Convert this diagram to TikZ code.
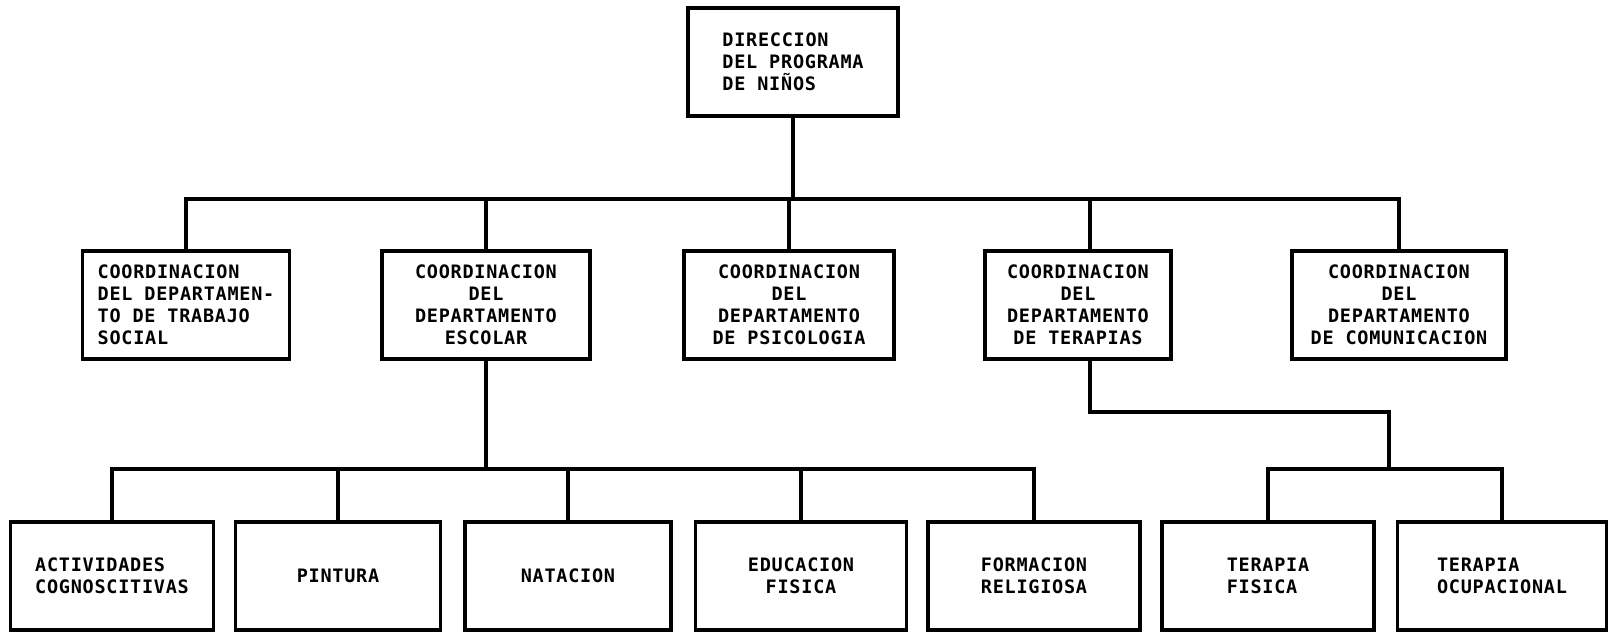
\documentclass[tikz,border=0pt]{standalone}
\usepackage{fontspec}
\usepackage{tikz}
\usetikzlibrary{positioning}
\newfontfamily\typefont{DejaVu Sans Mono}[LetterSpace=4]

\begin{document}
\begin{tikzpicture}[x=1pt, y=-1pt,
    box/.style={draw, line width=3.2pt, minimum height=108pt, inner sep=2pt,
      font=\typefont\bfseries\fontsize{18.5}{22}\selectfont},
    link/.style={line width=3.2pt, line join=miter}]
  \useasboundingbox (0,0) rectangle (1615,632);
  % Direction
  \node[box, align=left, minimum width=210pt] (dir) at (793,62) {DIRECCION\\DEL PROGRAMA\\DE NI\~NOS};
  % Coordinations
  \node[box, align=left, minimum width=207pt] (soc) at (186,305) {COORDINACION\\DEL DEPARTAMEN-\\TO DE TRABAJO\\SOCIAL};
  \node[box, align=center, minimum width=208pt] (esc) at (486,305) {COORDINACION\\DEL\\DEPARTAMENTO\\ESCOLAR};
  \node[box, align=center, minimum width=210pt] (psi) at (789,305) {COORDINACION\\DEL\\DEPARTAMENTO\\DE PSICOLOGIA};
  \node[box, align=center, minimum width=186pt] (ter) at (1078,305) {COORDINACION\\DEL\\DEPARTAMENTO\\DE TERAPIAS};
  \node[box, align=center, minimum width=214pt] (com) at (1399,305) {COORDINACION\\DEL\\DEPARTAMENTO\\DE COMUNICACION};
  % School areas
  \node[box, align=left, minimum width=203pt] (act) at (112,576) {ACTIVIDADES\\COGNOSCITIVAS};
  \node[box, align=center, minimum width=205pt] (pin) at (338,576) {PINTURA};
  \node[box, align=center, minimum width=206pt] (nat) at (568,576) {NATACION};
  \node[box, align=center, minimum width=211pt] (edu) at (801,576) {EDUCACION\\FISICA};
  \node[box, align=center, minimum width=212pt] (rel) at (1034,576) {FORMACION\\RELIGIOSA};
  % Therapy areas
  \node[box, align=left, minimum width=212pt] (tfi) at (1268,576) {TERAPIA\\FISICA};
  \node[box, align=left, minimum width=209pt] (toc) at (1502,576) {TERAPIA\\OCUPACIONAL};
  % Connectors
  \coordinate (bar1) at (793,199);
  \coordinate (bar2) at (486,469);
  \coordinate (tbend) at (1389,412);
  \coordinate (bar3) at (1389,469);
  \draw[link] (dir.south) -- (dir.south |- bar1);
  \draw[link] (soc.north) |- (bar1) -| (com.north);
  \foreach \n in {esc, psi}
    \draw[link] (\n.north) -- (\n.north |- bar1);
  \draw[link] ([xshift=12pt]ter.north) -- ([xshift=12pt]ter.north |- bar1);
  \draw[link] (esc.south) -- (esc.south |- bar2);
  \draw[link] (act.north) |- (bar2) -| (rel.north);
  \foreach \n in {pin, nat, edu}
    \draw[link] (\n.north) -- (\n.north |- bar2);
  \draw[link] ([xshift=12pt]ter.south) |- (tbend) -- (bar3);
  \draw[link] (tfi.north) |- (bar3) -| (toc.north);
\end{tikzpicture}
\end{document}
